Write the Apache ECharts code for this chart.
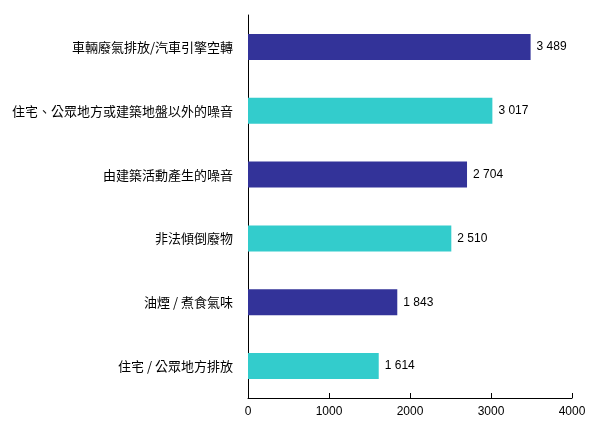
<!DOCTYPE html>
<html><head><meta charset="utf-8">
<script src="https://cdn.jsdelivr.net/npm/echarts@6/dist/echarts.min.js"></script>
<style>html,body{margin:0;padding:0;background:#fff}#c{width:602px;height:442px}</style>
</head><body><div id="c"></div>
<script>
var categories = ['車輛廢氣排放/汽車引擎空轉','住宅、公眾地方或建築地盤以外的噪音','由建築活動產生的噪音','非法傾倒廢物','油煙 / 煮食氣味','住宅 / 公眾地方排放'];
var values = [3489, 3017, 2704, 2510, 1843, 1614];
var barColors = ['#333399', '#33CCCC'];
var xTicks = [0, 1000, 2000, 3000, 4000];

function fmt(v){ return String(v).replace(/\B(?=(\d{3})+(?!\d))/g, ' '); }

var chart = echarts.init(document.getElementById('c'), null, {renderer:'canvas'});
chart.setOption({
  animation:false,
  backgroundColor:'#fff',
  grid:{left:248, right:30, top:15, bottom:44, containLabel:false},
  xAxis:{type:'value', min:xTicks[0], max:xTicks[xTicks.length-1], interval:1000,
    axisLine:{show:true, lineStyle:{color:'#000', width:1}},
    axisTick:{show:true, inside:true, length:5, lineStyle:{color:'#000'}},
    axisLabel:{color:'#000', fontFamily:'Liberation Sans, Arial', fontSize:12, margin:8,
      formatter:function(v){ return String(v); }},
    splitLine:{show:false}},
  yAxis:{type:'category', inverse:true, data:categories,
    axisLine:{show:true, lineStyle:{color:'#000', width:1}},
    axisTick:{show:false},
    axisLabel:{color:'#000', fontFamily:'Noto Sans CJK TC', fontSize:13, margin:15}},
  series:[{type:'bar', barWidth:26,
    data: values.map(function(v,i){ return {value:v, itemStyle:{color:barColors[i%2]}}; }),
    label:{show:true, position:'right', distance:6, color:'#000', fontFamily:'Liberation Sans, Arial', fontSize:12,
      formatter:function(p){ return fmt(p.value); }}}]
});
</script></body></html>
